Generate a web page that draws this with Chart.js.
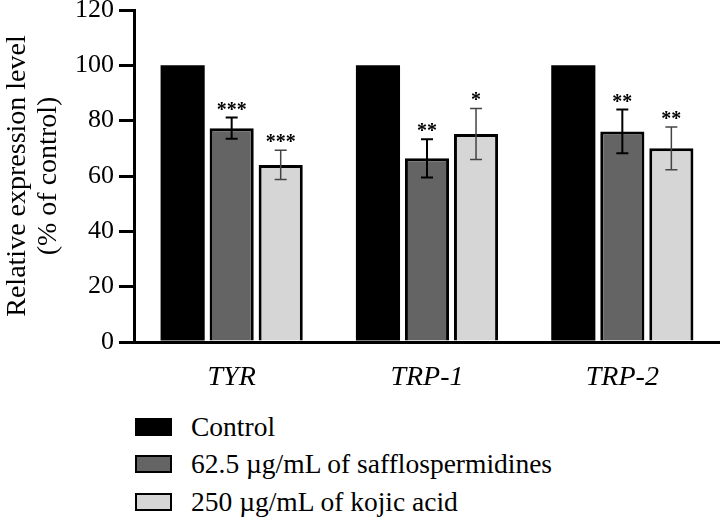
<!DOCTYPE html>
<html lang="en">
<head>
  <meta charset="UTF-8" />
  <title>Relative expression level</title>
  <script src="https://cdn.jsdelivr.net/npm/chart.js"></script>
  <style>
    body {
      margin: 0;
      background: #fff;
      font-family: "Liberation Serif", "DejaVu Serif", serif;
    }
    #wrap {
      position: relative;
      width: 720px;
      height: 520px;
    }
    #chartBox {
      position: absolute;
      left: 0;
      top: 0;
      width: 720px;
      height: 400px;
    }
    #legend {
      position: absolute;
      left: 135px;
      top: 408px;
    }
    .item {
      display: flex;
      align-items: center;
      height: 37.5px;
      font-size: 27.5px;
      color: #000;
    }
    .box {
      width: 33px;
      height: 14px;
      border: 2px solid #000;
      margin-right: 19px;
    }
  </style>
</head>
<body>
  <div id="wrap">
    <div id="chartBox"><canvas id="exprChart"></canvas></div>
    <div id="legend"></div>
  </div>

  <script>
    const categories = ['TYR', 'TRP-1', 'TRP-2'];
    const seriesNames = ['Control', '62.5 \u00b5g/mL of safflospermidines', '250 \u00b5g/mL of kojic acid'];
    const controlValues = [100, 100, 100];
    const safflValues = [77.3, 66.4, 76.1];
    const kojicValues = [64.0, 75.2, 70.0];
    const safflErrors = [3.8, 6.9, 7.9];
    const kojicErrors = [5.3, 9.2, 7.7];
    const safflStars = ['***', '**', '**'];
    const kojicStars = ['***', '*', '**'];
    const yTicks = [0, 20, 40, 60, 80, 100, 120];

    const fills = ['#000000', '#646464', '#d6d6d6'];
    const serif = "'Liberation Serif', 'DejaVu Serif', serif";

    // error bars + asterisks, drawn from the dataset values via the scales
    const errorPlugin = {
      id: 'errorBars',
      afterDatasetsDraw(chart) {
        const ctx = chart.ctx;
        const y = chart.scales.y;
        chart.data.datasets.forEach((ds, i) => {
          if (!ds.errors) return;
          const meta = chart.getDatasetMeta(i);
          meta.data.forEach((bar, j) => {
            const v = ds.data[j];
            const e = ds.errors[j];
            const yHi = y.getPixelForValue(v + e);
            const yLo = y.getPixelForValue(v - e);
            const x = bar.x;
            ctx.save();
            ctx.strokeStyle = ds.errColor;
            ctx.lineWidth = ds.errWidth;
            ctx.beginPath();
            ctx.moveTo(x, yHi); ctx.lineTo(x, yLo);
            ctx.moveTo(x - 6, yHi); ctx.lineTo(x + 6, yHi);
            ctx.moveTo(x - 6, yLo); ctx.lineTo(x + 6, yLo);
            ctx.stroke();
            ctx.fillStyle = '#000';
            ctx.font = 'bold 20px ' + serif;
            ctx.textAlign = 'center';
            ctx.textBaseline = 'alphabetic';
            ctx.fillText(ds.stars[j], x, yHi - 2);
            ctx.restore();
          });
        });
      }
    };

    new Chart(document.getElementById('exprChart'), {
      type: 'bar',
      data: {
        labels: categories,
        datasets: [
          {
            label: seriesNames[0],
            data: controlValues,
            backgroundColor: fills[0],
            borderColor: '#000',
            borderWidth: 0
          },
          {
            label: seriesNames[1],
            data: safflValues,
            backgroundColor: fills[1],
            borderColor: '#000',
            borderWidth: 3,
            errors: safflErrors,
            stars: safflStars,
            errColor: '#000',
            errWidth: 2
          },
          {
            label: seriesNames[2],
            data: kojicValues,
            backgroundColor: fills[2],
            borderColor: '#000',
            borderWidth: 3,
            errors: kojicErrors,
            stars: kojicStars,
            errColor: '#444',
            errWidth: 1.5
          }
        ]
      },
      options: {
        responsive: true,
        maintainAspectRatio: false,
        animation: false,
        categoryPercentage: 0.753,
        barPercentage: 0.9,
        layout: { padding: 0 },
        plugins: {
          legend: { display: false },
          tooltip: { enabled: false }
        },
        scales: {
          x: {
            grid: { display: false },
            border: { color: '#000', width: 3 },
            afterFit(scale) {
              scale.height = 58;
            },
            ticks: {
              color: '#000',
              padding: 11,
              font: { family: serif, size: 28, style: 'italic' }
            }
          },
          y: {
            min: 0,
            max: 120,
            afterBuildTicks(scale) {
              scale.ticks = yTicks.map(v => ({ value: v }));
            },
            afterFit(scale) {
              scale.width = 134;
              scale.paddingTop = 10;
            },
            grid: {
              drawOnChartArea: false,
              drawTicks: true,
              tickLength: 15,
              color: '#000',
              lineWidth: 3
            },
            border: { color: '#000', width: 3 },
            ticks: {
              color: '#000',
              padding: 5,
              font: { family: serif, size: 26 }
            },
            title: {
              display: true,
              text: ['Relative expression level', '(% of control)'],
              color: '#000',
              padding: { top: 3, bottom: 0 },
              font: { family: serif, size: 28, lineHeight: 1.08 }
            }
          }
        }
      },
      plugins: [errorPlugin]
    });

    const legend = document.getElementById('legend');
    seriesNames.forEach((name, i) => {
      const row = document.createElement('div');
      row.className = 'item';
      const box = document.createElement('span');
      box.className = 'box';
      box.style.background = fills[i];
      row.appendChild(box);
      row.appendChild(document.createTextNode(name));
      legend.appendChild(row);
    });
  </script>
</body>
</html>
